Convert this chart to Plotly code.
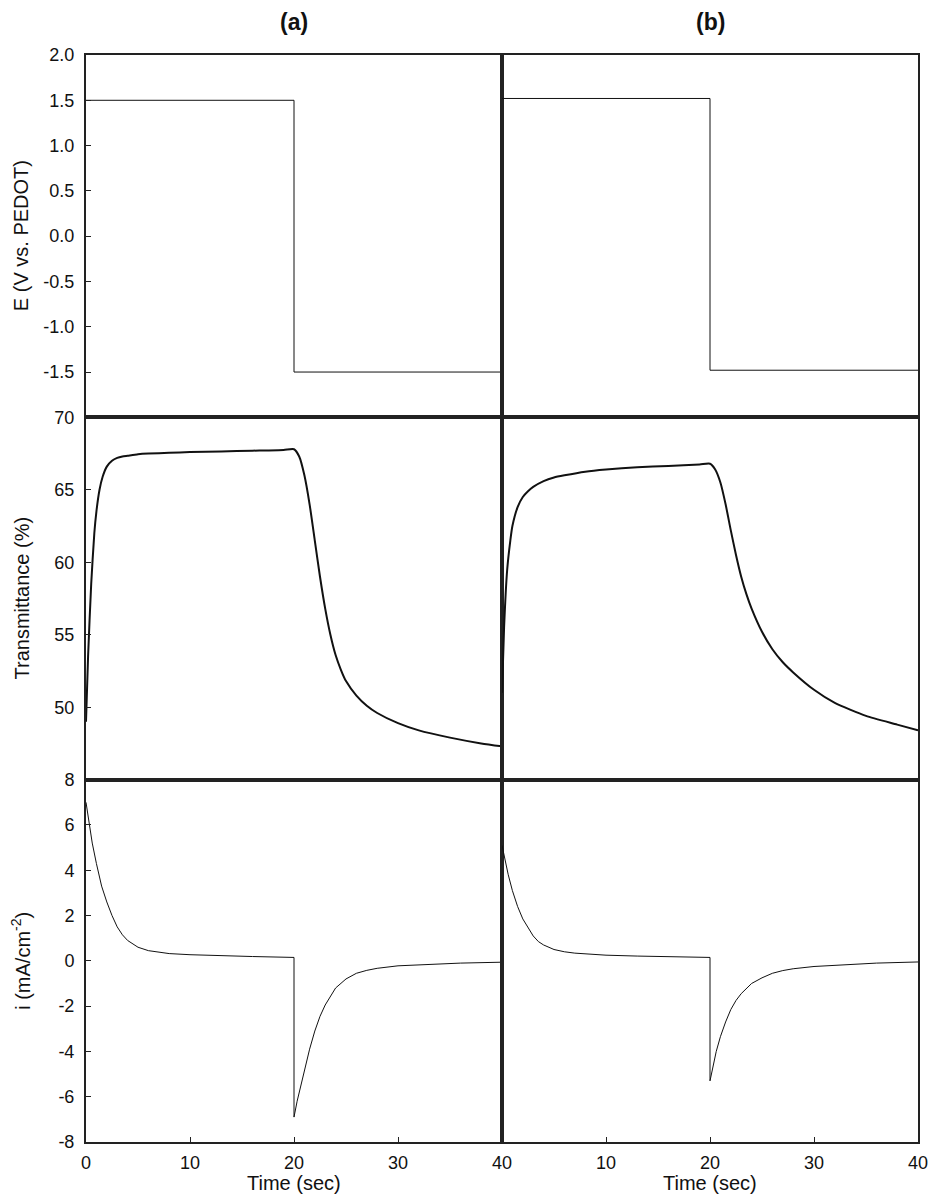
import plotly.graph_objects as go
from plotly.subplots import make_subplots

# ---------------- data ----------------
t_E = [0, 20, 20, 40]
E_a = [1.5, 1.5, -1.5, -1.5]
E_b = [1.52, 1.52, -1.48, -1.48]

t_a_T = [0, 0.2, 0.5, 0.8, 1.0, 1.3, 1.6, 2.0, 2.5, 3.0, 3.5, 4, 5, 6, 8, 10, 13, 16, 19, 20,
         20.5, 21, 21.5, 22, 22.5, 23, 23.5, 24, 24.5, 25, 26, 27, 28, 30, 32, 35, 38, 40]
T_a = [49.0, 53.5, 58.5, 62.0, 63.5, 65.0, 65.9, 66.6, 67.0, 67.2, 67.3, 67.35, 67.45, 67.5, 67.55,
       67.6, 67.65, 67.7, 67.75, 67.8, 67.3, 66.0, 64.0, 61.5, 59.0, 56.8, 55.0, 53.6, 52.6, 51.8,
       50.8, 50.1, 49.6, 48.9, 48.4, 47.9, 47.5, 47.3]

t_b_T = [0, 0.2, 0.5, 0.8, 1.0, 1.5, 2, 2.5, 3, 4, 5, 6, 8, 10, 13, 16, 19, 20,
         20.5, 21, 21.5, 22, 22.5, 23, 23.5, 24, 25, 26, 27, 28, 30, 32, 35, 38, 40]
T_b = [51.0, 55.5, 59.5, 61.5, 62.5, 63.8, 64.5, 64.9, 65.2, 65.6, 65.85, 66.0, 66.25, 66.4, 66.55,
       66.65, 66.75, 66.8, 66.4, 65.5, 64.0, 62.2, 60.5, 59.0, 57.8, 56.8, 55.2, 54.0, 53.1, 52.4,
       51.2, 50.3, 49.4, 48.8, 48.4]

t_a_i = [0, 0.3, 0.6, 1, 1.5, 2, 2.5, 3, 3.5, 4, 5, 6, 7, 8, 10, 13, 16, 20,
         20, 20.3, 20.6, 21, 21.5, 22, 22.5, 23, 23.5, 24, 25, 26, 27, 28, 30, 33, 36, 40]
i_a = [7.0, 6.0, 5.2, 4.3, 3.3, 2.6, 2.0, 1.5, 1.15, 0.9, 0.6, 0.45, 0.37, 0.32, 0.27, 0.22, 0.19, 0.15,
       -6.9, -6.2, -5.6, -4.8, -3.9, -3.1, -2.45, -1.95, -1.55, -1.2, -0.8, -0.55, -0.42, -0.33,
       -0.22, -0.15, -0.1, -0.06]

t_b_i = [0, 0.3, 0.6, 1, 1.5, 2, 2.5, 3, 3.5, 4, 5, 6, 7, 8, 10, 13, 16, 20,
         20, 20.3, 20.6, 21, 21.5, 22, 22.5, 23, 24, 25, 26, 27, 28, 30, 33, 36, 40]
i_b = [5.1, 4.4, 3.8, 3.1, 2.4, 1.85, 1.45, 1.1, 0.85, 0.7, 0.5, 0.4, 0.34, 0.3, 0.25, 0.21, 0.18, 0.15,
       -5.3, -4.6, -4.0, -3.35, -2.7, -2.15, -1.75, -1.45, -1.0, -0.75, -0.55, -0.43, -0.35,
       -0.25, -0.16, -0.1, -0.05]

E_ticks = [2.0, 1.5, 1.0, 0.5, 0.0, -0.5, -1.0, -1.5]
E_ticktext = ["2.0", "1.5", "1.0", "0.5", "0.0", "-0.5", "-1.0", "-1.5"]
T_ticks = [70, 65, 60, 55, 50]
i_ticks = [8, 6, 4, 2, 0, -2, -4, -6, -8]
i_ticktext = ["8", "6", "4", "2", "0", "-2", "-4", "-6", "-8"]
x_ticks_a = [0, 10, 20, 30, 40]
x_ticks_b = [10, 20, 30, 40]

panel_titles = ["(a)", "(b)"]
y_titles = ["E (V vs. PEDOT)", "Transmittance (%)", "i (mA/cm<sup>-2</sup>)"]
x_title = "Time (sec)"

# ---------------- figure ----------------
FONT = "Liberation Sans, Arial, sans-serif"
INK = "#111111"
AX = "#222222"

fig = make_subplots(rows=3, cols=2, horizontal_spacing=0, vertical_spacing=0)

fig.add_trace(go.Scatter(x=t_E, y=E_a, mode="lines", line=dict(color=INK, width=1)), row=1, col=1)
fig.add_trace(go.Scatter(x=t_E, y=E_b, mode="lines", line=dict(color=INK, width=1)), row=1, col=2)
fig.add_trace(go.Scatter(x=t_a_T, y=T_a, mode="lines", line=dict(color=INK, width=2, shape="spline", smoothing=0.6)), row=2, col=1)
fig.add_trace(go.Scatter(x=t_b_T, y=T_b, mode="lines", line=dict(color=INK, width=2, shape="spline", smoothing=0.6)), row=2, col=2)
fig.add_trace(go.Scatter(x=t_a_i, y=i_a, mode="lines", line=dict(color=INK, width=1)), row=3, col=1)
fig.add_trace(go.Scatter(x=t_b_i, y=i_b, mode="lines", line=dict(color=INK, width=1)), row=3, col=2)

common_axis = dict(showline=True, mirror=True, linewidth=2, linecolor=AX, showgrid=False,
                   zeroline=False, tickfont=dict(family=FONT, size=18, color="#111"))

for r in (1, 2, 3):
    for c in (1, 2):
        xa = dict(common_axis, range=[0, 40])
        if r == 3:
            xa.update(ticks="inside", ticklen=5, tickwidth=1, tickcolor=AX,
                      tickvals=x_ticks_a if c == 1 else x_ticks_b, showticklabels=True,
                      ticklabelstandoff=3)
        else:
            xa.update(ticks="", showticklabels=False)
        fig.update_xaxes(xa, row=r, col=c)
        ya = dict(common_axis)
        if r == 1:
            ya.update(range=[-2, 2], tickvals=E_ticks, ticktext=E_ticktext)
        elif r == 2:
            ya.update(range=[45, 70], tickvals=T_ticks)
        else:
            ya.update(range=[-8, 8], tickvals=i_ticks, ticktext=i_ticktext)
        if c == 1:
            ya.update(ticks="inside", ticklen=5, tickwidth=1, tickcolor=AX, showticklabels=True,
                      ticklabelstandoff=6)
        else:
            ya.update(ticks="", showticklabels=False)
        fig.update_yaxes(ya, row=r, col=c)

annotations = []
for k, txt in enumerate(panel_titles):
    annotations.append(dict(text="<b>%s</b>" % txt, xref="paper", yref="paper", x=0.25 + 0.5 * k, y=1,
                            yshift=33, xanchor="center", yanchor="middle", showarrow=False,
                            font=dict(family=FONT, size=23, color="#111")))
    annotations.append(dict(text=x_title, xref="paper", yref="paper", x=0.25 + 0.5 * k, y=0,
                            yshift=-41, xanchor="center", yanchor="middle", showarrow=False,
                            font=dict(family=FONT, size=20, color="#111")))
for r, txt in enumerate(y_titles):
    yc = 1 - (r + 0.5) / 3
    annotations.append(dict(text=txt, xref="paper", yref="paper", x=0, y=yc, xshift=-65,
                            xanchor="center", yanchor="middle", textangle=-90, showarrow=False,
                            font=dict(family=FONT, size=20, color="#111")))

fig.update_layout(width=939, height=1196, margin=dict(l=86, r=11, t=55, b=54),
                  paper_bgcolor="white", plot_bgcolor="white", showlegend=False,
                  annotations=annotations, font=dict(family=FONT))

fig.write_html("out.html")
